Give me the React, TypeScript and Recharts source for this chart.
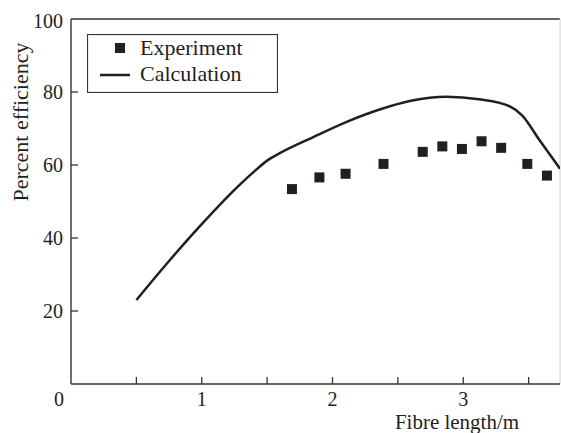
import {
  ComposedChart,
  Legend,
  Line,
  ReferenceLine,
  Scatter,
  XAxis,
  YAxis
} from "recharts";

const INK = "#231f20";
const FONT = "Liberation Serif, Times New Roman, Times, serif";
const txt = { fontFamily: FONT };

// calculated curve
const calcX = [0.5, 0.75, 1.0, 1.25, 1.4, 1.5, 1.6, 1.85, 2.1, 2.36, 2.6, 2.87, 3.12, 3.36, 3.45, 3.58, 3.74];
const calcY = [23, 33.7, 43.8, 53.2, 58.2, 61.2, 63.3, 67.6, 71.7, 75.2, 77.6, 78.7, 78.0, 76, 73.6, 67, 59];

// measured points
const expX = [1.69, 1.9, 2.1, 2.39, 2.69, 2.84, 2.99, 3.14, 3.29, 3.49, 3.64];
const expY = [53.4, 56.6, 57.6, 60.3, 63.6, 65.1, 64.4, 66.5, 64.7, 60.3, 57.1];

const xTicks = [0, 0.5, 1, 1.5, 2, 2.5, 3, 3.5];
const yTicks = [20, 40, 60, 80, 100];

const calcData = calcX.map((x, i) => ({ x, y: calcY[i] }));
const expData = expX.map((x, i) => ({ x, y: expY[i] }));

function XTick({ x, y, payload }: any) {
  const v = payload.value;
  const isInt = Number.isInteger(v);
  return (
    <g>
      {v !== 0 && <line x1={x} y1={y} x2={x} y2={y - 7} stroke="#333" strokeWidth={1.3} />}
      {isInt && (
        <text x={v === 0 ? x - 12 : x} y={y + 21.5} textAnchor="middle" fontSize={20} fill={INK} style={txt}>
          {v}
        </text>
      )}
    </g>
  );
}

function YTick({ x, y, payload }: any) {
  const v = payload.value;
  return (
    <g>
      {v !== 100 && <line x1={x} y1={y} x2={x + 7} y2={y} stroke="#333" strokeWidth={1.3} />}
      <text x={x - 8} y={y + 7 + (v === 100 ? 2 : 0)} textAnchor="end" fontSize={20} fill={INK} style={txt}>
        {v}
      </text>
    </g>
  );
}

function Square({ cx, cy }: any) {
  return <rect x={cx - 5} y={cy - 5} width={10} height={10} fill={INK} />;
}

function LegendBox() {
  return (
    <svg width={191} height={59} style={{ display: "block" }}>
      <rect x={0.5} y={0.5} width={190} height={58} fill="#fff" stroke="#333" strokeWidth={1.2} />
      <rect x={28} y={9} width={10} height={10} fill={INK} />
      <text x={53} y={21} fontSize={22} fill={INK} style={txt}>Experiment</text>
      <line x1={13} y1={41} x2={43} y2={41} stroke={INK} strokeWidth={2.5} />
      <text x={53} y={47} fontSize={22} fill={INK} style={txt}>Calculation</text>
    </svg>
  );
}

export default function App() {
  return (
    <div style={{ position: "absolute", left: 0, top: 0, background: "#fff", fontFamily: FONT }}>
      <ComposedChart width={561} height={433} margin={{ top: 19, right: 1, bottom: 0, left: 0 }}>
        <XAxis
          type="number"
          dataKey="x"
          domain={[0, 3.74]}
          ticks={xTicks}
          allowDataOverflow
          height={49}
          tickSize={0}
          tickMargin={0}
          tickLine={false}
          tick={<XTick />}
          axisLine={{ stroke: "#333", strokeWidth: 1.4 }}
          label={{
            content: () => (
              <text x={457} y={428.5} textAnchor="middle" fontSize={21} fill={INK} style={txt}>
                Fibre length/m
              </text>
            )
          }}
        />
        <YAxis
          type="number"
          dataKey="y"
          domain={[0, 100]}
          ticks={yTicks}
          width={71}
          tickSize={0}
          tickMargin={0}
          tickLine={false}
          tick={<YTick />}
          axisLine={{ stroke: "#333", strokeWidth: 1.4 }}
          label={{
            content: () => (
              <text
                x={28}
                y={122}
                transform="rotate(-90 28 122)"
                textAnchor="middle"
                fontSize={22}
                fill={INK}
                style={txt}
              >
                Percent efficiency
              </text>
            )
          }}
        />
        <ReferenceLine y={100} stroke="#333" strokeWidth={1.4} />
        <ReferenceLine x={3.74} stroke="#d0d0d0" strokeWidth={1} />
        <Line
          data={calcData}
          dataKey="y"
          type="monotone"
          stroke={INK}
          strokeWidth={2.5}
          dot={false}
          isAnimationActive={false}
          name="Calculation"
        />
        <Scatter data={expData} dataKey="y" shape={<Square />} fill={INK} isAnimationActive={false} name="Experiment" />
        <Legend
          layout="horizontal"
          verticalAlign="middle"
          align="center"
          content={<LegendBox />}
          wrapperStyle={{ left: 87, top: 34, width: 191, height: 59 }}
        />
      </ComposedChart>
    </div>
  );
}
